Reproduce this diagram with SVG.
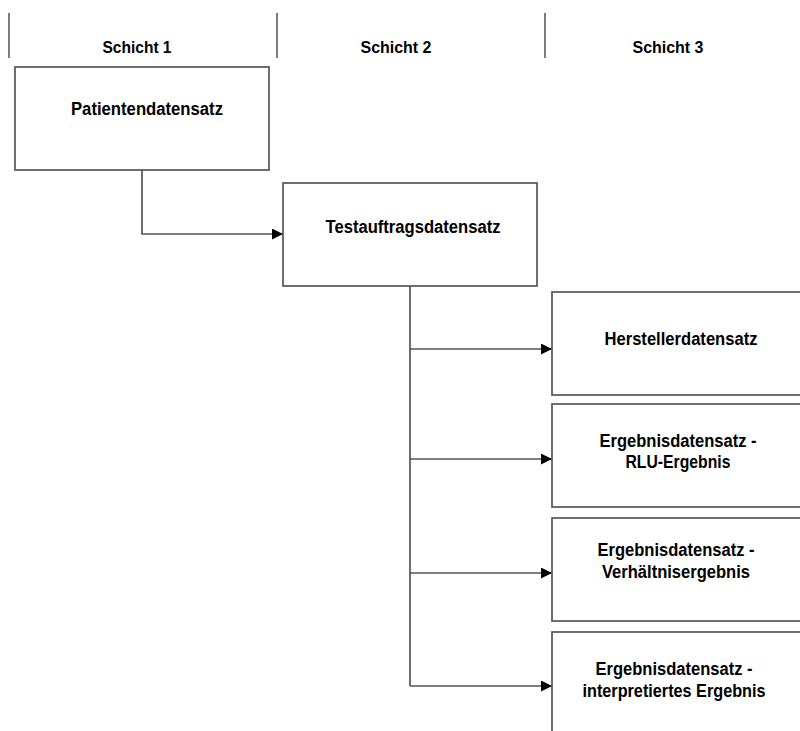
<svg xmlns="http://www.w3.org/2000/svg" width="800" height="731" viewBox="0 0 800 731">
  <style>
    .box { fill: #ffffff; stroke: #555555; stroke-width: 1.7; }
    .sep { stroke: #666666; stroke-width: 1.7; }
    .wire { fill: none; stroke: #555555; stroke-width: 1.7; }
    .hdr { font-family: "Liberation Sans", Arial, sans-serif; font-weight: bold; font-size: 17px; fill: #000; text-anchor: middle; }
    .lbl { font-family: "Liberation Sans", Arial, sans-serif; font-weight: bold; font-size: 17.5px; fill: #000; text-anchor: middle; }
  </style>
  <defs>
    <marker id="arrow" markerWidth="12" markerHeight="12" refX="11" refY="5.5" orient="auto" markerUnits="userSpaceOnUse">
      <path d="M0,0 L11,5.5 L0,11 Z" fill="#000"/>
    </marker>
  </defs>
  <rect width="800" height="731" fill="#ffffff"/>

  <!-- column headers -->
  <g id="headers">
    <line class="sep" x1="9" y1="13" x2="9" y2="58"/>
    <line class="sep" x1="277" y1="13" x2="277" y2="58"/>
    <line class="sep" x1="545" y1="13" x2="545" y2="58"/>
    <text class="hdr" x="137" y="53" textLength="69" lengthAdjust="spacingAndGlyphs">Schicht 1</text>
    <text class="hdr" x="396" y="53" textLength="71" lengthAdjust="spacingAndGlyphs">Schicht 2</text>
    <text class="hdr" x="668" y="53" textLength="71" lengthAdjust="spacingAndGlyphs">Schicht 3</text>
  </g>

  <!-- connectors -->
  <g id="connectors">
    <path class="wire" d="M142,170 V234 H283" marker-end="url(#arrow)"/>
    <path class="wire" d="M410,286 V686"/>
    <path class="wire" d="M410,349 H552" marker-end="url(#arrow)"/>
    <path class="wire" d="M410,459 H552" marker-end="url(#arrow)"/>
    <path class="wire" d="M410,573 H552" marker-end="url(#arrow)"/>
    <path class="wire" d="M410,686 H552" marker-end="url(#arrow)"/>
  </g>

  <g id="patient">
    <rect class="box" x="15" y="67" width="254" height="103"/>
    <text class="lbl" x="147" y="115" textLength="152" lengthAdjust="spacingAndGlyphs">Patientendatensatz</text>
  </g>

  <g id="testauftrag">
    <rect class="box" x="283" y="183" width="254" height="103"/>
    <text class="lbl" x="413" y="233" textLength="175" lengthAdjust="spacingAndGlyphs">Testauftragsdatensatz</text>
  </g>

  <g id="hersteller">
    <rect class="box" x="552" y="292" width="270" height="103"/>
    <text class="lbl" x="681" y="345" textLength="153" lengthAdjust="spacingAndGlyphs">Herstellerdatensatz</text>
  </g>

  <g id="ergebnis-rlu">
    <rect class="box" x="552" y="404" width="270" height="103"/>
    <text class="lbl" x="678" y="447" textLength="157" lengthAdjust="spacingAndGlyphs">Ergebnisdatensatz -</text>
    <text class="lbl" x="678" y="468" textLength="105" lengthAdjust="spacingAndGlyphs">RLU-Ergebnis</text>
  </g>

  <g id="ergebnis-verhaeltnis">
    <rect class="box" x="552" y="518" width="270" height="103"/>
    <text class="lbl" x="676" y="556" textLength="157" lengthAdjust="spacingAndGlyphs">Ergebnisdatensatz -</text>
    <text class="lbl" x="676" y="578" textLength="148" lengthAdjust="spacingAndGlyphs">Verhältnisergebnis</text>
  </g>

  <g id="ergebnis-interpretiert">
    <rect class="box" x="552" y="632" width="270" height="120"/>
    <text class="lbl" x="674" y="675" textLength="157" lengthAdjust="spacingAndGlyphs">Ergebnisdatensatz -</text>
    <text class="lbl" x="674" y="697" textLength="183" lengthAdjust="spacingAndGlyphs">interpretiertes Ergebnis</text>
  </g>
</svg>
